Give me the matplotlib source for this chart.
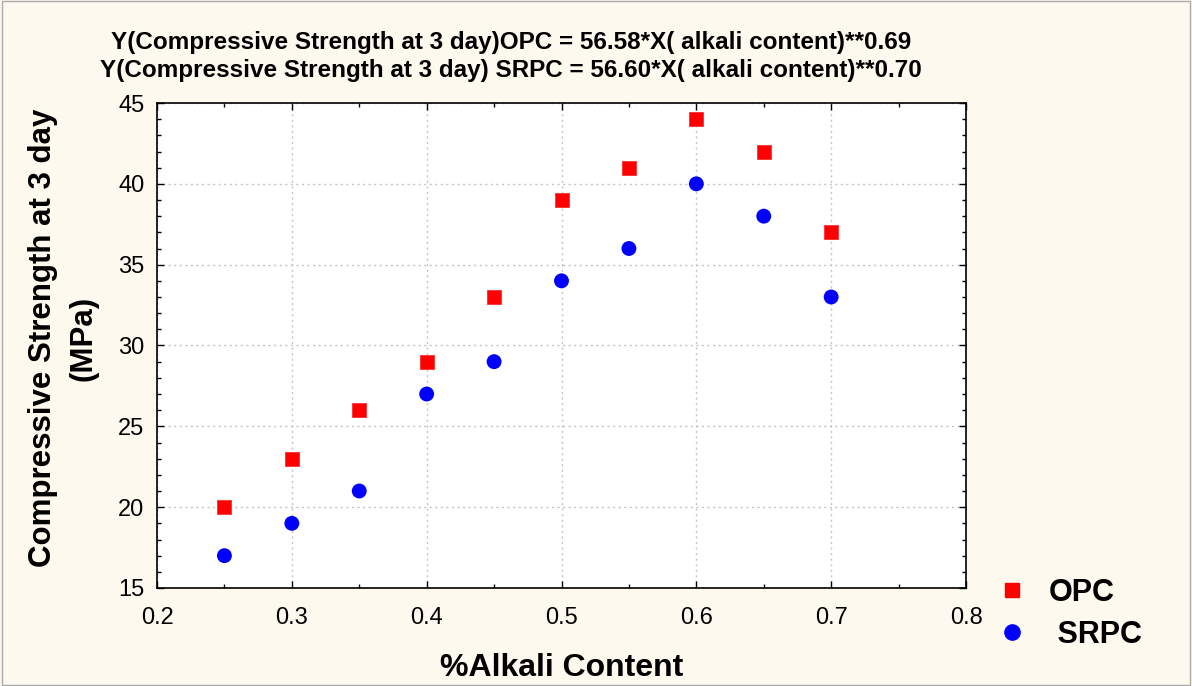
import matplotlib
matplotlib.use("Agg")
import matplotlib.pyplot as plt
from matplotlib.ticker import MultipleLocator
from matplotlib.lines import Line2D

alkali = [0.25, 0.30, 0.35, 0.40, 0.45, 0.50, 0.55, 0.60, 0.65, 0.70]
opc = [20, 23, 26, 29, 33, 39, 41, 44, 42, 37]
srpc = [17, 19, 21, 27, 29, 34, 36, 40, 38, 33]
title_lines = ["Y(Compressive Strength at 3 day)OPC = 56.58*X( alkali content)**0.69",
               "Y(Compressive Strength at 3 day) SRPC = 56.60*X( alkali content)**0.70"]

plt.rcParams['font.family'] = ['Liberation Sans', 'DejaVu Sans']
bg = '#FEF9EF'
fig = plt.figure(figsize=(11.92, 6.86), dpi=100, facecolor=bg)
ax = fig.add_axes([157/1192, 1-588/686, (966-157)/1192, (588-103)/686])
ax.set_facecolor('white')

ax.scatter(alkali, opc, marker='s', s=100, color='#FF0000', edgecolors='#FF3030', linewidths=0.6, zorder=3)
ax.scatter(alkali, srpc, marker='o', s=115, color='#0000FF', edgecolors='none', zorder=3)

ax.set_xlim(0.2, 0.8)
ax.set_ylim(15, 45)
ax.xaxis.set_major_locator(MultipleLocator(0.1))
ax.xaxis.set_minor_locator(MultipleLocator(0.05))
ax.yaxis.set_major_locator(MultipleLocator(5))
ax.yaxis.set_minor_locator(MultipleLocator(1))
ax.tick_params(which='both', direction='in', top=True, right=True, labelsize=17, colors='black')
ax.tick_params(which='major', length=5, width=1)
ax.tick_params(which='minor', length=3, width=1)
ax.tick_params(axis='x', pad=14)
ax.tick_params(axis='y', pad=9)
ax.grid(True, which='major', linestyle=(0, (1.5, 2.5)), color='#C4C4C4', linewidth=1)
for s in ax.spines.values():
    s.set_linewidth(1.2)
    s.set_color('black')

fig.text(511/1192, 1-42/686, title_lines[0], ha='center', va='center', fontsize=17.5, fontweight='bold')
fig.text(511/1192, 1-71/686, title_lines[1], ha='center', va='center', fontsize=17.5, fontweight='bold')

ax.set_xlabel('%Alkali Content', fontsize=23, fontweight='bold', labelpad=17)
ax.set_ylabel('Compressive Strength at 3 day\n(MPa)', fontsize=22.5, fontweight='bold', labelpad=14, linespacing=1.45)
ax.yaxis.label.set_y(0.515)

handles = [Line2D([], [], marker='s', linestyle='none', color='#FF0000', markersize=10),
           Line2D([], [], marker='o', linestyle='none', color='#0000FF', markersize=11)]
fig.legend(handles, ['OPC', ' SRPC'], loc='center left', bbox_to_anchor=(954/1192, 1-614/686),
           frameon=False, prop={'size': 22, 'weight': 'bold'}, handletextpad=0.2, labelspacing=0.4)

fig.patches.append(plt.Rectangle((0.002, 0.002), 0.996, 0.996, transform=fig.transFigure,
                                 fill=False, edgecolor='#AAAAAA', linewidth=1))
fig.savefig('out.png', dpi=100, facecolor=bg)
